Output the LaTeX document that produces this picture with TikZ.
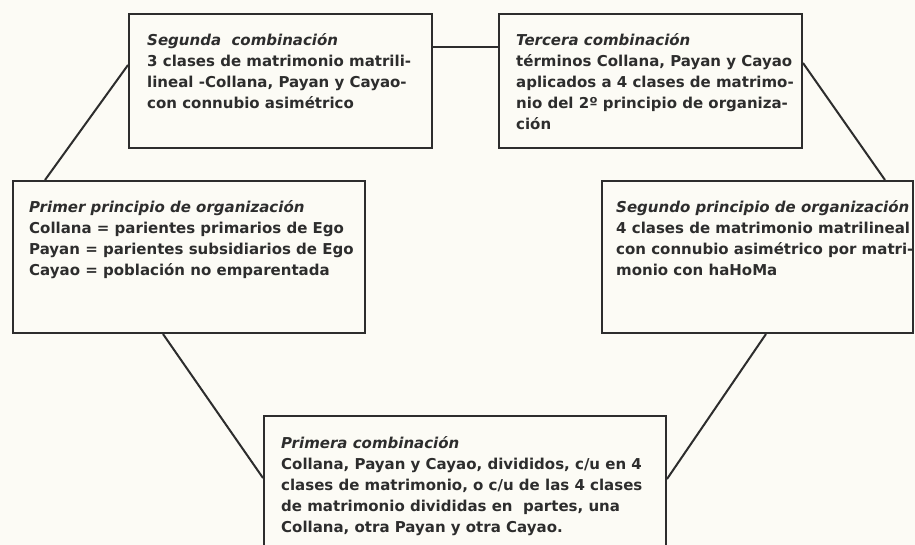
\documentclass[tikz,border=0pt]{standalone}
\usepackage{fontspec}
\setmainfont{DejaVu Sans}
\usetikzlibrary{calc}
\definecolor{ink}{RGB}{45,45,45}
\definecolor{paper}{RGB}{252,251,245}
\tikzset{
  box/.style={draw=ink, line width=2pt, fill=none, rectangle, inner sep=0pt, anchor=north west},
  txt/.style={anchor=north west, inner sep=0pt, align=left, text=ink,
    font=\fontsize{15pt}{21pt}\selectfont\bfseries},
  link/.style={draw=ink, line width=2pt}
}
\begin{document}
\begin{tikzpicture}[x=1pt,y=-1pt]
\clip (0,0) rectangle (915,545);
\fill[paper] (0,0) rectangle (915,545);
\node[box, minimum width=303pt, minimum height=134pt] (b1) at (128,13) {};
\node[box, minimum width=303pt, minimum height=134pt] (b2) at (498,13) {};
\node[box, minimum width=352pt, minimum height=152pt] (b3) at (12,180) {};
\node[box, minimum width=311pt, minimum height=152pt] (b4) at (601,180) {};
\node[box, minimum width=402pt, minimum height=150pt] (b5) at (263,415) {};

\node[txt] (t1) at (147,33) {\textit{Segunda\ \ combinación}\\3 clases de matrimonio matrili-\\lineal -Collana, Payan y Cayao-\\con connubio asimétrico};
\node[txt] (t2) at (516,33) {\textit{Tercera combinación}\\términos Collana, Payan y Cayao\\aplicados a 4 clases de matrimo-\\nio del 2º principio de organiza-\\ción};
\node[txt] (t3) at (29,200) {\textit{Primer principio de organización}\\Collana = parientes primarios de Ego\\Payan = parientes subsidiarios de Ego\\Cayao = población no emparentada};
\node[txt] (t4) at (616,200) {\textit{Segundo principio de organización}\\4 clases de matrimonio matrilineal\\con connubio asimétrico por matri-\\monio con haHoMa};
\node[txt] (t5) at (281,436) {\textit{Primera combinación}\\Collana, Payan y Cayao, divididos, c/u en 4\\clases de matrimonio, o c/u de las 4 clases\\de matrimonio divididas en\ \ partes, una\\Collana, otra Payan y otra Cayao.};

\draw[link] ([yshift=-34pt]b1.north east) -- ([yshift=-34pt]b2.north west);
\draw[link] ([yshift=-52pt]b1.north west) -- ([xshift=33pt]b3.north west);
\draw[link] ([yshift=-50pt]b2.north east) -- ([xshift=-29pt]b4.north east);
\draw[link] ([xshift=151pt]b3.south west) -- ([yshift=-63pt]b5.north west);
\draw[link] ([xshift=165pt]b4.south west) -- ([yshift=-64pt]b5.north east);
\end{tikzpicture}
\end{document}
